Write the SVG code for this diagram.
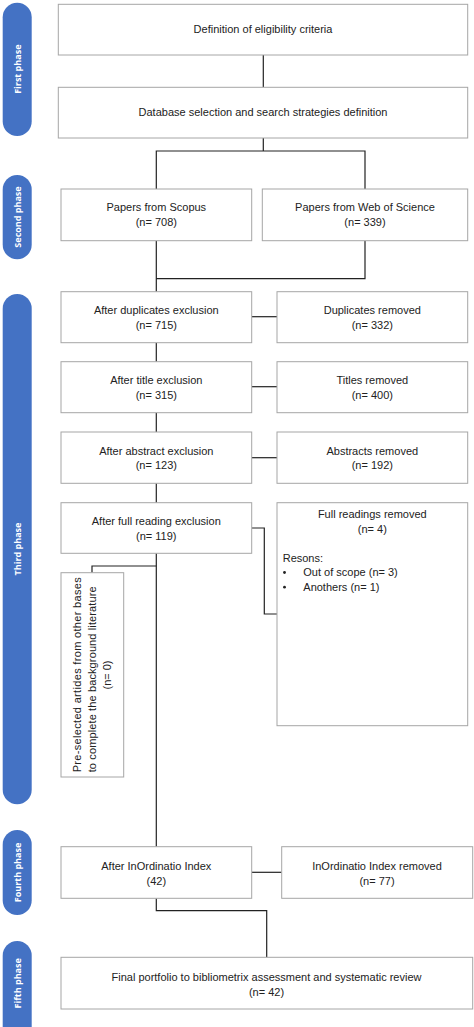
<svg xmlns="http://www.w3.org/2000/svg" width="474" height="1027" viewBox="0 0 474 1027">
<style>
.box{fill:#fff;stroke:#a6a6a6;stroke-width:1}
.pill{fill:#4472c4}
.pt{fill:#fff;font-family:"Open Sans","Liberation Sans",sans-serif;font-weight:bold;font-size:9px;text-anchor:middle}
.t{fill:#222;font-family:"Liberation Sans",Arial,sans-serif;font-size:11px;text-anchor:middle}
.tl{fill:#222;font-family:"Liberation Sans",Arial,sans-serif;font-size:11px}
.c{fill:none;stroke:#222;stroke-width:1.2}
</style>
<rect width="474" height="1027" fill="#fff"/>
<g id="phases">
<rect class="pill" x="2.7" y="2.7" width="29" height="133.3" rx="14.5"/>
<text class="pt" transform="translate(20.5,69.2) rotate(-90)">First phase</text>
<rect class="pill" x="2.7" y="175" width="29" height="84.3" rx="14.5"/>
<text class="pt" transform="translate(20.5,217) rotate(-90)">Second phase</text>
<rect class="pill" x="2.7" y="294" width="29" height="510.3" rx="14.5"/>
<text class="pt" transform="translate(20.5,549) rotate(-90)">Third phase</text>
<rect class="pill" x="2.7" y="830" width="29" height="85" rx="14.5"/>
<text class="pt" transform="translate(20.5,872.5) rotate(-90)">Fourth phase</text>
<rect class="pill" x="2.7" y="941" width="29" height="110" rx="14.5"/>
<text class="pt" transform="translate(20.5,983.3) rotate(-90)">Fifth phase</text>
</g>
<g id="connectors">
<path class="c" d="M263.3,55V87.3"/>
<path class="c" d="M263.3,138V151M156.3,189V151H365V189"/>
<path class="c" d="M156.3,240.7V291.7M365,240.7V278.7H156.3"/>
<path class="c" d="M251.7,316.7H277"/>
<path class="c" d="M156.3,342.7V361.7"/>
<path class="c" d="M251.7,386.7H277"/>
<path class="c" d="M156.3,412.7V432"/>
<path class="c" d="M251.7,457.7H277"/>
<path class="c" d="M156.3,483.3V502.7"/>
<path class="c" d="M251.7,528H264.3V614H277"/>
<path class="c" d="M156.3,553.3V846.7"/>
<path class="c" d="M156.3,566H92V572.7"/>
<path class="c" d="M251.7,872.3H281.7"/>
<path class="c" d="M156.3,898.3V910.7H266.7V957.3"/>
</g>
<g id="n1"><rect class="box" x="58.3" y="4.3" width="409.4" height="50.7"/>
<text class="t" x="263" y="33.3">Definition of eligibility criteria</text></g>
<g id="n2"><rect class="box" x="58.3" y="87.3" width="409.4" height="50.7"/>
<text class="t" x="263" y="116.3">Database selection and search strategies definition</text></g>
<g id="n3"><rect class="box" x="61" y="189" width="190.7" height="51.7"/>
<text class="t" x="156.3" y="211.3">Papers from Scopus</text><text class="t" x="156.3" y="226.3">(n=  708)</text></g>
<g id="n4"><rect class="box" x="262.3" y="189" width="205.4" height="51.7"/>
<text class="t" x="365" y="211.3">Papers from Web of Science</text><text class="t" x="365" y="226.3">(n= 339)</text></g>
<g id="n5"><rect class="box" x="61" y="291.7" width="190.7" height="51"/>
<text class="t" x="156.3" y="313.6">After duplicates exclusion</text><text class="t" x="156.3" y="328.6">(n= 715)</text></g>
<g id="n6"><rect class="box" x="277" y="291.7" width="190.7" height="51"/>
<text class="t" x="372.3" y="313.6">Duplicates removed</text><text class="t" x="372.3" y="328.6">(n= 332)</text></g>
<g id="n7"><rect class="box" x="61" y="361.7" width="190.7" height="51"/>
<text class="t" x="156.3" y="383.8">After title exclusion</text><text class="t" x="156.3" y="398.8">(n= 315)</text></g>
<g id="n8"><rect class="box" x="277" y="361.7" width="190.7" height="51"/>
<text class="t" x="372.3" y="383.8">Titles  removed</text><text class="t" x="372.3" y="398.8">(n= 400)</text></g>
<g id="n9"><rect class="box" x="61" y="432" width="190.7" height="51.3"/>
<text class="t" x="156.3" y="454.6">After abstract exclusion</text><text class="t" x="156.3" y="469.1">(n= 123)</text></g>
<g id="n10"><rect class="box" x="277" y="432" width="190.7" height="51.3"/>
<text class="t" x="372.3" y="454.6">Abstracts  removed</text><text class="t" x="372.3" y="469.1">(n= 192)</text></g>
<g id="n11"><rect class="box" x="61" y="502.7" width="190.7" height="50.6"/>
<text class="t" x="156.3" y="524.6">After full reading exclusion</text><text class="t" x="156.3" y="539.8">(n= 119)</text></g>
<g id="n12"><rect class="box" x="277" y="502.7" width="190.7" height="223"/>
<text class="t" x="372.3" y="518.3">Full readings removed</text><text class="t" x="372.3" y="533.1">(n= 4)</text>
<text class="tl" x="282.7" y="562.3">Resons:</text>
<circle cx="284.5" cy="572.5" r="1.4" fill="#222"/><text class="tl" x="303.3" y="576.3">Out of scope (n= 3)</text>
<circle cx="284.5" cy="587.2" r="1.4" fill="#222"/><text class="tl" x="303.3" y="591">Anothers (n= 1)</text></g>
<g id="n13"><rect class="box" x="61" y="572.7" width="62.7" height="204.3"/>
<text class="tl" transform="translate(81,772.3) rotate(-90)" textLength="195" lengthAdjust="spacing">Pre-selected artides from other bases</text>
<text class="tl" transform="translate(96,772.3) rotate(-90)" textLength="186" lengthAdjust="spacing">to complete the background literature</text>
<text class="t" transform="translate(111,675) rotate(-90)">(n= 0)</text></g>
<g id="n14"><rect class="box" x="61" y="846.7" width="190.7" height="51.6"/>
<text class="t" x="156.3" y="869.8">After InOrdinatio Index</text><text class="t" x="156.3" y="884.8">(42)</text></g>
<g id="n15"><rect class="box" x="281.7" y="846.7" width="191" height="51.6"/>
<text class="t" x="377" y="869.8">InOrdinatio Index removed</text><text class="t" x="377" y="884.8">(n= 77)</text></g>
<g id="n16"><rect class="box" x="61" y="957.3" width="411.7" height="51.7"/>
<text class="t" x="266.5" y="980.6">Final portfolio to bibliometrix assessment and systematic review</text><text class="t" x="266.5" y="995.6">(n= 42)</text></g>
</svg>
